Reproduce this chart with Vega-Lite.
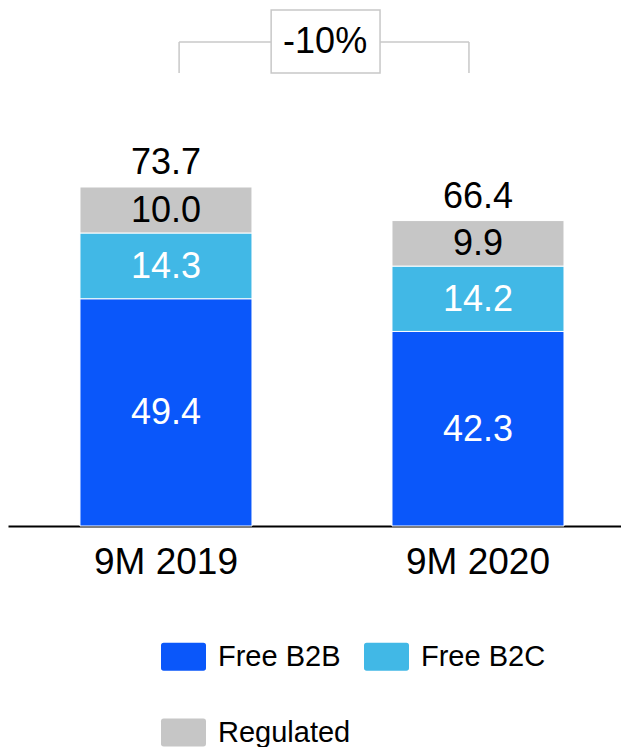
{
  "$schema": "https://vega.github.io/schema/vega-lite/v6.json",
  "width": 613,
  "height": 526,
  "autosize": {"type": "none"},
  "padding": {"left": 8, "top": 0, "right": 0, "bottom": 221},
  "background": "white",
  "config": {"view": {"stroke": null}, "font": "Liberation Sans"},
  "datasets": {
    "bars": [
      {"period": "9M 2019", "segment": "Free B2B", "order": 1, "value": 49.4},
      {"period": "9M 2019", "segment": "Free B2C", "order": 2, "value": 14.3},
      {"period": "9M 2019", "segment": "Regulated", "order": 3, "value": 10.0},
      {"period": "9M 2020", "segment": "Free B2B", "order": 1, "value": 42.3},
      {"period": "9M 2020", "segment": "Free B2C", "order": 2, "value": 14.2},
      {"period": "9M 2020", "segment": "Regulated", "order": 3, "value": 9.9}
    ],
    "bracket": [
      {"x": 0.042, "x2": 0.971, "y": 105.2, "y2": 105.2},
      {"x": 0.042, "x2": 0.042, "y": 105.2, "y2": 98.5},
      {"x": 0.971, "x2": 0.971, "y": 105.2, "y2": 98.5}
    ],
    "box": [
      {"x": 0.337, "x2": 0.686, "y": 98.5, "y2": 112.2, "cx": 0.51, "cy": 105.3, "label": "-10%"}
    ]
  },
  "layer": [
    {
      "data": {"name": "bars"},
      "layer": [
        {
          "mark": {"type": "bar", "stroke": "white", "strokeWidth": 1},
          "encoding": {
            "x": {
              "field": "period", "type": "nominal", "title": null,
              "scale": {"paddingInner": 0.4487, "paddingOuter": 0.2067, "align": 0.558},
              "axis": {"labelFontSize": 37, "labelColor": "black", "labelFont": "Liberation Sans", "ticks": false, "domainColor": "black", "domainWidth": 2, "labelPadding": 18, "labelAngle": 0}
            },
            "y": {"field": "value", "type": "quantitative", "stack": "zero", "scale": {"domain": [0, 114.35], "nice": false}, "axis": null},
            "color": {
              "field": "segment", "type": "nominal",
              "scale": {"domain": ["Free B2B", "Free B2C", "Regulated"], "range": ["#0A57FA", "#41B8E6", "#C6C6C6"]},
              "legend": {
                "orient": "none", "legendX": 153, "legendY": 634, "direction": "horizontal", "columns": 2, "title": null, "padding": 0,
                "symbolType": "M-0.88,-0.62H0.88Q1,-0.62 1,-0.5V0.5Q1,0.62 0.88,0.62H-0.88Q-1,0.62 -1,0.5V-0.5Q-1,-0.62 -0.88,-0.62Z",
                "symbolSize": 2025, "symbolStrokeWidth": 0, "symbolOpacity": 1,
                "labelFontSize": 29, "labelFont": "Liberation Sans", "labelColor": "black", "labelOffset": 12,
                "columnPadding": 13, "rowPadding": 38, "gridAlign": "all", "labelLimit": 300
              }
            },
            "order": {"field": "order", "type": "quantitative"}
          }
        },
        {
          "transform": [
            {"stack": "value", "groupby": ["period"], "sort": [{"field": "order", "order": "ascending"}], "as": ["v0", "v1"]},
            {"calculate": "(datum.v0 + datum.v1) / 2", "as": "mid"}
          ],
          "mark": {"type": "text", "fontSize": 36, "baseline": "middle", "align": "center", "dy": 1},
          "encoding": {
            "x": {"field": "period", "type": "nominal"},
            "y": {"field": "mid", "type": "quantitative"},
            "text": {"field": "value", "type": "quantitative", "format": ".1f"},
            "color": {"condition": {"test": "datum.segment === 'Regulated'", "value": "black"}, "value": "white"}
          }
        },
        {
          "transform": [{"aggregate": [{"op": "sum", "field": "value", "as": "total"}], "groupby": ["period"]}],
          "mark": {"type": "text", "fontSize": 36, "baseline": "alphabetic", "align": "center", "dy": -13, "color": "black"},
          "encoding": {
            "x": {"field": "period", "type": "nominal"},
            "y": {"field": "total", "type": "quantitative"},
            "text": {"field": "total", "type": "quantitative", "format": ".1f"}
          }
        }
      ]
    },
    {
      "layer": [
        {
          "data": {"name": "bracket"},
          "mark": {"type": "rule", "color": "#C8C8C8", "strokeWidth": 1.5},
          "encoding": {
            "x": {"field": "x", "type": "quantitative", "scale": {"domain": [-0.5064, 1.4583], "nice": false, "zero": false}, "axis": null},
            "x2": {"field": "x2"},
            "y": {"field": "y", "type": "quantitative", "scale": {"domain": [0, 114.35], "nice": false}, "axis": null},
            "y2": {"field": "y2"}
          }
        },
        {
          "data": {"name": "box"},
          "mark": {"type": "rect", "fill": "white", "stroke": "#C8C8C8", "strokeWidth": 1.5},
          "encoding": {
            "x": {"field": "x", "type": "quantitative"},
            "x2": {"field": "x2"},
            "y": {"field": "y", "type": "quantitative"},
            "y2": {"field": "y2"}
          }
        },
        {
          "data": {"name": "box"},
          "mark": {"type": "text", "fontSize": 36, "baseline": "middle", "align": "center", "color": "black"},
          "encoding": {
            "x": {"field": "cx", "type": "quantitative"},
            "y": {"field": "cy", "type": "quantitative"},
            "text": {"field": "label"}
          }
        }
      ]
    }
  ],
  "resolve": {"scale": {"x": "independent"}}
}
